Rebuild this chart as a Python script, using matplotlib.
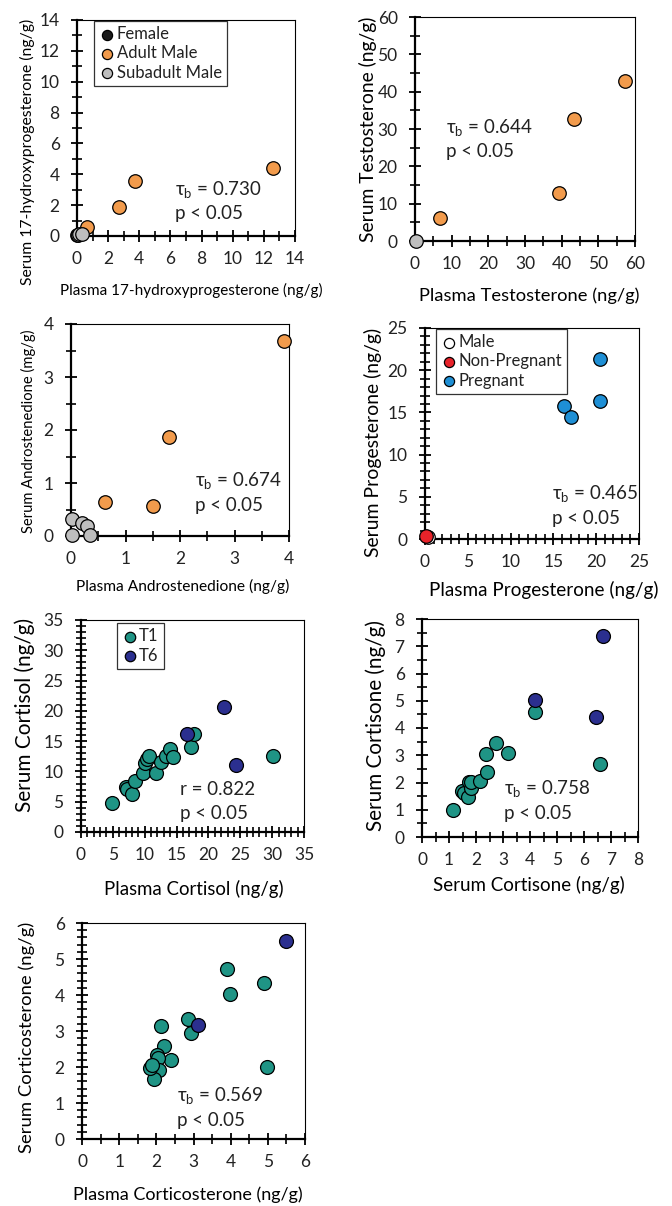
import numpy as np
import matplotlib
matplotlib.use("Agg")
import matplotlib.pyplot as plt
from matplotlib.ticker import MultipleLocator

plt.rcParams['font.family'] = ['Lato', 'DejaVu Sans']
plt.rcParams['mathtext.fontset'] = 'custom'
plt.rcParams['mathtext.rm'] = 'Lato'
plt.rcParams['text.color'] = '#222222'

# colours
C_FEMALE = '#1a1a1a'
C_ADULT = '#F29B4C'
C_SUB = '#BEBEBE'
C_PREG = '#1E8FD5'
C_NONPREG = '#E8232A'
C_T1 = '#1F9485'
C_T6 = '#2B2F8F'

# 17-hydroxyprogesterone
ohp_female_x = [0.02]
ohp_female_y = [0.08]
ohp_adult_x = [0.64, 2.7, 3.7, 12.6]
ohp_adult_y = [0.60, 1.9, 3.56, 4.43]
ohp_sub_x = [0.05, 0.12, 0.33]
ohp_sub_y = [0.05, 0.12, 0.15]

# testosterone
tes_adult_x = [6.8, 39.4, 43.3, 57.2]
tes_adult_y = [6.2, 12.9, 32.7, 42.9]
tes_sub_x = [0.3]
tes_sub_y = [0.0]

# androstenedione
and_adult_x = [0.62, 1.5, 1.79, 3.9]
and_adult_y = [0.65, 0.57, 1.86, 3.67]
and_sub_x = [0.02, 0.21, 0.29, 0.02, 0.34]
and_sub_y = [0.32, 0.25, 0.19, 0.02, 0.01]

# progesterone
pro_male_x = [0.35]
pro_male_y = [0.2]
pro_nonpreg_x = [0.15]
pro_nonpreg_y = [0.3]
pro_preg_x = [16.2, 17.1, 20.5, 20.5]
pro_preg_y = [15.8, 14.5, 21.35, 16.3]

# cortisol
cor_t1_x = [4.9, 7.0, 7.2, 7.95, 8.4, 9.7, 10.1, 10.3, 10.6, 11.7, 12.6, 13.3,
            13.9, 14.4, 17.3, 17.7, 30.2]
cor_t1_y = [4.78, 7.36, 7.1, 6.3, 8.35, 9.78, 11.37, 12.0, 12.47, 9.67, 11.54,
            12.47, 13.74, 12.36, 14.0, 16.15, 12.47]
cor_t6_x = [16.6, 22.5, 24.3]
cor_t6_y = [16.15, 20.7, 11.1]

# cortisone
cne_t1_x = [1.15, 1.48, 1.55, 1.71, 1.73, 1.8, 1.83, 2.13, 2.36, 2.4, 2.74,
            3.19, 4.17, 6.61]
cne_t1_y = [0.99, 1.68, 1.62, 1.45, 2.02, 1.78, 2.01, 2.05, 3.04, 2.38, 3.45,
            3.07, 4.6, 2.67]
cne_t6_x = [4.2, 6.44, 6.72]
cne_t6_y = [5.04, 4.39, 7.39]

# corticosterone
cst_t1_x = [3.91, 3.99, 4.9, 4.98, 2.84, 2.93, 2.12, 2.21, 2.39, 2.02, 2.04,
            2.08, 1.93, 1.82, 1.89]
cst_t1_y = [4.73, 4.02, 4.32, 1.99, 3.33, 2.94, 3.14, 2.59, 2.2, 2.33, 2.26,
            1.91, 1.66, 1.98, 2.06]
cst_t6_x = [3.13, 5.49]
cst_t6_y = [3.16, 5.5]

W, H = 672, 1206
fig = plt.figure(figsize=(W / 100, H / 100), dpi=100)
to_fit = []


def make_ax(l, t, r, b):
    return fig.add_axes([l / W, 1 - b / H, (r - l) / W, (b - t) / H])


def style(ax, lim, major, minor, xminor=None):
    ax.set_xlim(0, lim)
    ax.set_ylim(0, lim)
    ax.xaxis.set_major_locator(MultipleLocator(major))
    ax.yaxis.set_major_locator(MultipleLocator(major))
    ax.xaxis.set_minor_locator(MultipleLocator(xminor if xminor else minor))
    ax.yaxis.set_minor_locator(MultipleLocator(minor))
    for s in ['left', 'bottom']:
        ax.spines[s].set_linewidth(1.6)
    for s in ['top', 'right']:
        ax.spines[s].set_linewidth(0.8)
    ax.tick_params(which='major', direction='inout', length=9, width=1.3,
                   labelsize=12.5, labelcolor='#222222', top=False, right=False)
    ax.tick_params(axis='x', which='major', pad=6)
    ax.tick_params(axis='y', which='major', pad=8)
    ax.tick_params(which='minor', direction='inout', length=7, width=1.2,
                   top=False, right=False)


def labels(ax, xl, yl, xpos, ypos, xw, yw):
    # xpos / ypos: label centres in axes fraction, xw / yw: text length in px
    ax.set_xlabel(xl, fontsize=12)
    ax.set_ylabel(yl, fontsize=12)
    ax.xaxis.set_label_coords(xpos[0], xpos[1])
    ax.yaxis.set_label_coords(ypos[0], ypos[1])
    ax.xaxis.label.set_verticalalignment('center')
    ax.yaxis.label.set_verticalalignment('center')
    to_fit.append((ax.xaxis.label, xw, False))
    to_fit.append((ax.yaxis.label, yw, True))


def pts(ax, x, y, c, label=None, s=95):
    ax.scatter(x, y, s=s, c=c, edgecolors='black', linewidths=0.9,
               label=label, zorder=3, clip_on=False)


def stat(ax, fx, fy1, fy2, first):
    ax.text(fx, fy1, first, transform=ax.transAxes, fontsize=13.5, va='center')
    ax.text(fx, fy2, 'p < 0.05', transform=ax.transAxes, fontsize=13.5,
            va='center')


def leg(ax, loc_box):
    lg = ax.legend(loc='upper left', bbox_to_anchor=loc_box, frameon=True,
                   fancybox=False, fontsize=12, handletextpad=0.05,
                   borderpad=0.3, labelspacing=0.2, handlelength=1.0,
                   borderaxespad=0, markerscale=0.75)
    lg.get_frame().set_edgecolor('black')
    lg.get_frame().set_linewidth(0.9)


# panel 1
ax = make_ax(77, 20, 295, 236)
style(ax, 14, 2, 1)
pts(ax, ohp_female_x, ohp_female_y, C_FEMALE, 'Female')
pts(ax, ohp_adult_x, ohp_adult_y, C_ADULT, 'Adult Male')
pts(ax, ohp_sub_x, ohp_sub_y, C_SUB, 'Subadult Male')
leg(ax, (0.078, 0.995))
stat(ax, 0.45, 0.213, 0.105, 'τ$_{\\mathrm{b}}$ = 0.730')
labels(ax, 'Plasma 17-hydroxyprogesterone (ng/g)',
       'Serum 17-hydroxyprogesterone (ng/g)',
       (0.523, -0.25), (-0.225, 0.39), 262, 265)

# panel 2
ax = make_ax(415, 17, 635, 241)
style(ax, 60, 10, 5)
pts(ax, tes_adult_x, tes_adult_y, C_ADULT)
pts(ax, tes_sub_x, tes_sub_y, C_SUB)
stat(ax, 0.14, 0.504, 0.40, 'τ$_{\\mathrm{b}}$ = 0.644')
labels(ax, 'Plasma Testosterone (ng/g)', 'Serum Testosterone (ng/g)',
       (0.52, -0.245), (-0.214, 0.50), 220, 225)

# panel 3
ax = make_ax(71, 324, 289, 536)
style(ax, 4, 1, 0.5)
pts(ax, and_adult_x, and_adult_y, C_ADULT)
pts(ax, and_sub_x, and_sub_y, C_SUB)
stat(ax, 0.569, 0.256, 0.146, 'τ$_{\\mathrm{b}}$ = 0.674')
labels(ax, 'Plasma Androstenedione (ng/g)', 'Serum Androstenedione (mg/g)',
       (0.514, -0.24), (-0.197, 0.495), 212, 203)

# panel 4
ax = make_ax(425, 328, 639, 539)
style(ax, 25, 5, 1)
pts(ax, pro_male_x, pro_male_y, 'white', 'Male')
pts(ax, pro_nonpreg_x, pro_nonpreg_y, C_NONPREG, 'Non-Pregnant')
pts(ax, pro_preg_x, pro_preg_y, C_PREG, 'Pregnant')
leg(ax, (0.05, 0.995))
stat(ax, 0.594, 0.21, 0.097, 'τ$_{\\mathrm{b}}$ = 0.465')
labels(ax, 'Plasma Progesterone (ng/g)', 'Serum Progesterone (ng/g)',
       (0.557, -0.24), (-0.243, 0.46), 227, 229)

# panel 5
ax = make_ax(81, 620, 304, 832)
style(ax, 35, 5, 1)
pts(ax, cor_t1_x, cor_t1_y, C_T1, 'T1', s=100)
pts(ax, cor_t6_x, cor_t6_y, C_T6, 'T6', s=100)
leg(ax, (0.16, 0.985))
stat(ax, 0.444, 0.2, 0.089, 'r = 0.822')
labels(ax, 'Plasma Cortisol (ng/g)', 'Serum Cortisol (ng/g)',
       (0.504, -0.27), (-0.251, 0.55), 179, 193)

# panel 6
ax = make_ax(422, 619, 638, 837)
style(ax, 8, 1, 0.5)
pts(ax, cne_t1_x, cne_t1_y, C_T1, s=100)
pts(ax, cne_t6_x, cne_t6_y, C_T6, s=100)
stat(ax, 0.379, 0.218, 0.11, 'τ$_{\\mathrm{b}}$ = 0.758')
labels(ax, 'Serum Cortisone (ng/g)', 'Serum Cortisone (ng/g)',
       (0.495, -0.22), (-0.213, 0.51), 190, 210)

# panel 7
ax = make_ax(82, 923, 305, 1139)
style(ax, 6, 1, 0.2, xminor=0.5)
pts(ax, cst_t1_x, cst_t1_y, C_T1, s=100)
pts(ax, cst_t6_x, cst_t6_y, C_T6, s=100)
stat(ax, 0.425, 0.198, 0.086, 'τ$_{\\mathrm{b}}$ = 0.569')
labels(ax, 'Plasma Corticosterone (ng/g)', 'Serum Corticosterone (ng/g)',
       (0.473, -0.26), (-0.247, 0.47), 229, 230)

# scale axis titles so their length matches the reference
renderer = fig.canvas.get_renderer()
for txt, target, vertical in to_fit:
    bb = txt.get_window_extent(renderer)
    size = bb.height if vertical else bb.width
    txt.set_fontsize(txt.get_fontsize() * target / size)

fig.savefig('out.png', dpi=100, facecolor='white')
